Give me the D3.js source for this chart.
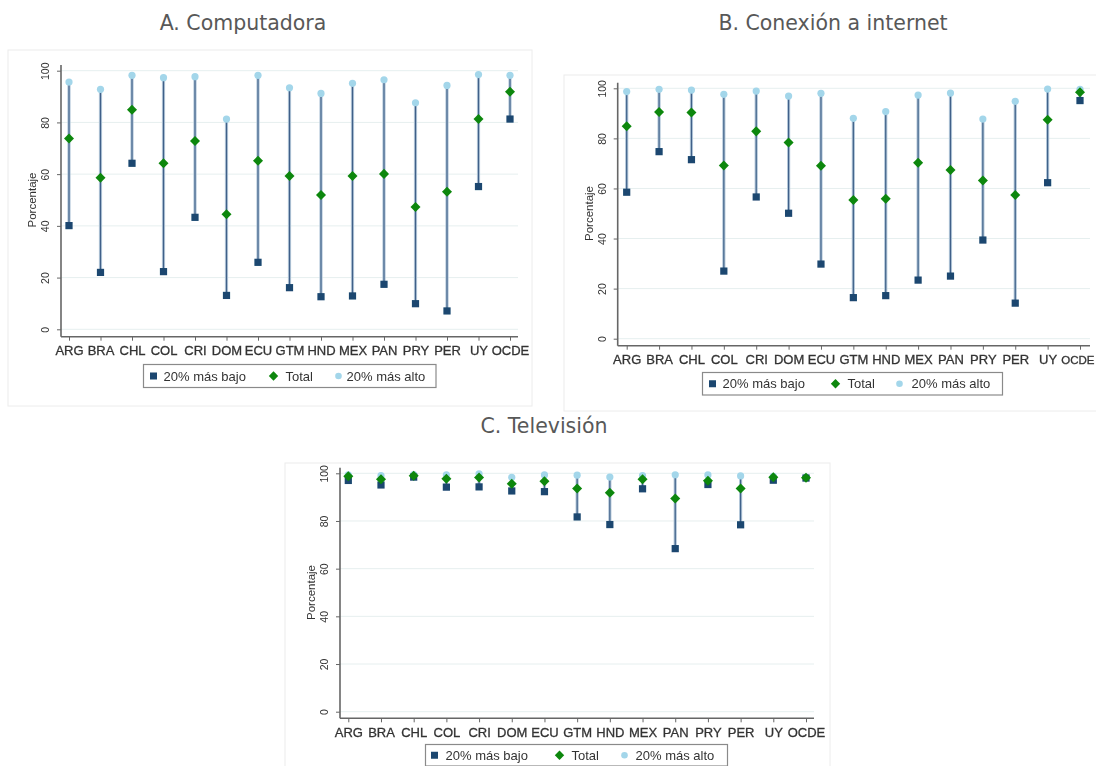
<!DOCTYPE html>
<html>
<head>
<meta charset="utf-8">
<script src="https://cdn.jsdelivr.net/npm/d3@7"></script>
<style>
  html, body { margin: 0; padding: 0; background: #fff; }
  svg { display: block; }
</style>
</head>
<body>
<svg id="chart" width="1096" height="766"></svg>
<script>
// Countries shown on every panel
const countries = ["ARG","BRA","CHL","COL","CRI","DOM","ECU","GTM","HND","MEX","PAN","PRY","PER","UY","OCDE"];
const yTicks = [0, 20, 40, 60, 80, 100];
const seriesNames = ["20% más bajo", "Total", "20% más alto"];

// A. Computadora
const compLow   = [40.1, 22.0, 64.2, 22.3, 43.3, 13.1, 25.9, 16.1, 12.6, 12.9, 17.4, 9.9, 7.1, 55.2, 81.3];
const compTotal = [73.8, 58.6, 84.9, 64.2, 72.8, 44.5, 65.2, 59.3, 51.9, 59.3, 60.1, 47.3, 53.2, 81.3, 91.9];
const compHigh  = [95.6, 92.8, 98.2, 97.3, 97.7, 81.3, 98.2, 93.4, 91.2, 95.1, 96.5, 87.6, 94.3, 98.5, 98.2];

// B. Conexión a internet
const netLow   = [58.5, 74.7, 71.5, 27.0, 56.6, 50.1, 29.8, 16.4, 17.2, 23.4, 25.0, 39.4, 14.2, 62.3, 95.1];
const netTotal = [84.8, 90.5, 90.3, 69.2, 82.8, 78.4, 69.1, 55.4, 55.9, 70.3, 67.4, 63.2, 57.4, 87.4, 98.4];
const netHigh  = [98.7, 99.6, 99.3, 97.6, 98.9, 96.9, 98.0, 88.0, 90.7, 97.3, 98.1, 87.7, 94.8, 99.7, 99.6];

// C. Televisión
const tvLow   = [97.0, 95.1, 98.4, 94.2, 94.3, 92.6, 92.3, 81.7, 78.5, 93.5, 68.4, 95.3, 78.4, 97.1, 98.0];
const tvTotal = [98.8, 97.5, 99.0, 97.7, 98.2, 95.6, 96.7, 93.6, 91.8, 97.5, 89.4, 96.9, 93.6, 98.3, 98.1];
const tvHigh  = [99.3, 99.0, 99.5, 99.3, 99.8, 98.3, 99.3, 99.2, 98.4, 99.0, 99.4, 99.3, 98.9, 98.7, 98.4];

const COLORS = { low: "#1a476f", total: "#0a870a", high: "#a3d6ea", spikeLight: "#b3c7d9", spikeDark: "#3f6189" };
const AXIS_FONT = "Liberation Sans, Arial, sans-serif";
const WIDTH = 1096;

const svg = d3.select("#chart");

// Soft look of the exported panels
const defs = svg.append("defs");
defs.append("filter").attr("id", "soft")
  .attr("x", "-5%").attr("y", "-5%").attr("width", "110%").attr("height", "110%")
  .append("feGaussianBlur").attr("stdDeviation", 0.55);

const diamond = d3.symbol().type(d3.symbolDiamond2).size(64);

function drawPanel(p) {
  // panel frame
  svg.append("rect")
    .attr("x", p.frame[0]).attr("y", p.frame[1])
    .attr("width", p.frame[2]).attr("height", p.frame[3])
    .attr("fill", "#fff").attr("stroke", "#ececec").attr("stroke-width", 1);

  // title
  svg.append("text")
    .attr("x", p.titleX).attr("y", p.titleY)
    .attr("text-anchor", "middle")
    .attr("font-family", "DejaVu Sans, Verdana, sans-serif")
    .attr("font-size", 20.5)
    .attr("fill", "#585858")
    .text(p.title);

  const g = svg.append("g").attr("filter", "url(#soft)");

  const y = d3.scaleLinear().domain([0, 100]).range([p.y0, p.y100]);
  const x = d3.scalePoint().domain(countries).range([p.xFirst, p.xLast]);

  // grid
  g.append("g").selectAll("line").data(yTicks).join("line")
    .attr("x1", p.axisX).attr("x2", p.right)
    .attr("y1", d => y(d)).attr("y2", d => y(d))
    .attr("stroke", "#e6efef").attr("stroke-width", 1);

  // y axis
  const yAxis = d3.axisLeft(y).tickValues(yTicks).tickSize(4).tickPadding(0).tickFormat(d3.format("d"));
  const ya = g.append("g").attr("transform", `translate(${p.axisX},0)`).call(yAxis);
  ya.select(".domain").remove();
  ya.selectAll(".tick line").attr("stroke", "#666").attr("stroke-width", 1);
  ya.selectAll(".tick text")
    .attr("x", 0).attr("dy", null)
    .attr("transform", "translate(-16,0) rotate(-90)")
    .attr("text-anchor", "middle")
    .attr("dominant-baseline", "central")
    .attr("font-family", AXIS_FONT).attr("font-size", 10.5).attr("fill", "#333");
  g.append("line")
    .attr("x1", p.axisX).attr("x2", p.axisX)
    .attr("y1", y(100) - 5.6).attr("y2", p.baseline)
    .attr("stroke", "#666").attr("stroke-width", 1.6);

  // x axis
  const xAxis = d3.axisBottom(x).tickSize(4).tickPadding(0);
  const xa = g.append("g").attr("transform", `translate(0,${p.baseline})`).call(xAxis);
  xa.select(".domain").remove();
  xa.selectAll(".tick line").attr("stroke", "#666").attr("stroke-width", 1);
  xa.selectAll(".tick text")
    .attr("y", 14).attr("dy", null)
    .attr("dominant-baseline", "central")
    .attr("font-family", AXIS_FONT).attr("font-size", 13).attr("fill", "#333")
    .attr("stroke", "#333").attr("stroke-width", 0.3);
  // keep a label that reaches the page edge inside it
  xa.selectAll(".tick").each(function (d) {
    const t = d3.select(this).select("text");
    let w = t.node().getComputedTextLength();
    if (x(d) + w / 2 > WIDTH - 2) {
      t.attr("font-size", 11.5);
      w = t.node().getComputedTextLength();
      const overflow = x(d) + w / 2 - (WIDTH - 2);
      if (overflow > 0) t.attr("x", -overflow);
    }
  });
  g.append("line")
    .attr("x1", p.axisX).attr("x2", p.right)
    .attr("y1", p.baseline).attr("y2", p.baseline)
    .attr("stroke", "#666").attr("stroke-width", 1.6);

  // y title
  g.append("text")
    .attr("transform", `translate(${p.axisX - 29},${(y(0) + y(100)) / 2}) rotate(-90)`)
    .attr("text-anchor", "middle").attr("dominant-baseline", "central")
    .attr("font-family", AXIS_FONT).attr("font-size", 11.5).attr("fill", "#333")
    .text("Porcentaje");

  const rows = countries.map((c, i) => ({ c, low: p.low[i], total: p.total[i], high: p.high[i] }));

  // spikes low → high
  const spikes = g.append("g");
  spikes.selectAll("line.l").data(rows).join("line").attr("class", "l")
    .attr("x1", d => x(d.c)).attr("x2", d => x(d.c))
    .attr("y1", d => y(d.low)).attr("y2", d => y(d.high))
    .attr("stroke", COLORS.spikeLight).attr("stroke-width", 3.2);
  spikes.selectAll("line.d").data(rows).join("line").attr("class", "d")
    .attr("x1", d => x(d.c)).attr("x2", d => x(d.c))
    .attr("y1", d => y(d.low)).attr("y2", d => y(d.high))
    .attr("stroke", COLORS.spikeDark).attr("stroke-width", 1.2);

  // markers
  g.append("g").selectAll("circle").data(rows).join("circle")
    .attr("cx", d => x(d.c)).attr("cy", d => y(d.high)).attr("r", 3.6)
    .attr("fill", COLORS.high);
  g.append("g").selectAll("rect").data(rows).join("rect")
    .attr("x", d => x(d.c) - 3.6).attr("y", d => y(d.low) - 3.6)
    .attr("width", 7.2).attr("height", 7.2)
    .attr("fill", COLORS.low);
  g.append("g").selectAll("path").data(rows).join("path")
    .attr("transform", d => `translate(${x(d.c)},${y(d.total)})`)
    .attr("d", diamond)
    .attr("fill", COLORS.total);

  // legend
  const lg = g.append("g").attr("transform", `translate(${p.legend[0]},${p.legend[1]})`);
  lg.append("rect").attr("width", p.legend[2]).attr("height", p.legend[3])
    .attr("fill", "#fff").attr("stroke", "#8a8a8a").attr("stroke-width", 1.2);
  const cy = p.legend[3] / 2;
  const kinds = ["low", "total", "high"];
  kinds.forEach((kind, i) => {
    const mx = p.legendItems[i][0], tx = p.legendItems[i][1];
    if (kind === "low") {
      lg.append("rect").attr("x", mx - 3.5).attr("y", cy - 3.5).attr("width", 7).attr("height", 7).attr("fill", COLORS.low);
    } else if (kind === "total") {
      lg.append("path").attr("transform", `translate(${mx},${cy})`)
        .attr("d", d3.symbol().type(d3.symbolDiamond2).size(56)).attr("fill", COLORS.total);
    } else {
      lg.append("circle").attr("cx", mx).attr("cy", cy).attr("r", 3.3).attr("fill", COLORS.high);
    }
    lg.append("text").attr("x", tx).attr("y", cy)
      .attr("dominant-baseline", "central")
      .attr("font-family", AXIS_FONT).attr("font-size", 13).attr("fill", "#333")
      .text(seriesNames[i]);
  });
}

drawPanel({
  title: "A. Computadora", titleX: 243, titleY: 30,
  frame: [8, 50, 524, 356],
  axisX: 61, right: 518, y0: 329.3, y100: 70.7, baseline: 336.7,
  xFirst: 69, xLast: 510,
  legend: [143.5, 364.5, 292.5, 23],
  legendItems: [[10, 20], [130, 142], [195, 203]],
  low: compLow, total: compTotal, high: compHigh
});

drawPanel({
  title: "B. Conexión a internet", titleX: 833, titleY: 30,
  frame: [564, 75, 540, 336],
  axisX: 617.7, right: 1090, y0: 338.7, y100: 88.3, baseline: 345.7,
  xFirst: 626.7, xLast: 1080,
  legend: [702.5, 372.5, 300, 22.5],
  legendItems: [[10, 20], [133, 145], [197, 209]],
  low: netLow, total: netTotal, high: netHigh
});

drawPanel({
  title: "C. Televisión", titleX: 544, titleY: 433,
  frame: [285, 463, 545, 310],
  axisX: 340, right: 814, y0: 711.7, y100: 473.3, baseline: 718.3,
  xFirst: 348.3, xLast: 806,
  legend: [425.5, 744.5, 302, 21.5],
  legendItems: [[9, 20], [134, 146], [199, 210]],
  low: tvLow, total: tvTotal, high: tvHigh
});
</script>
</body>
</html>
